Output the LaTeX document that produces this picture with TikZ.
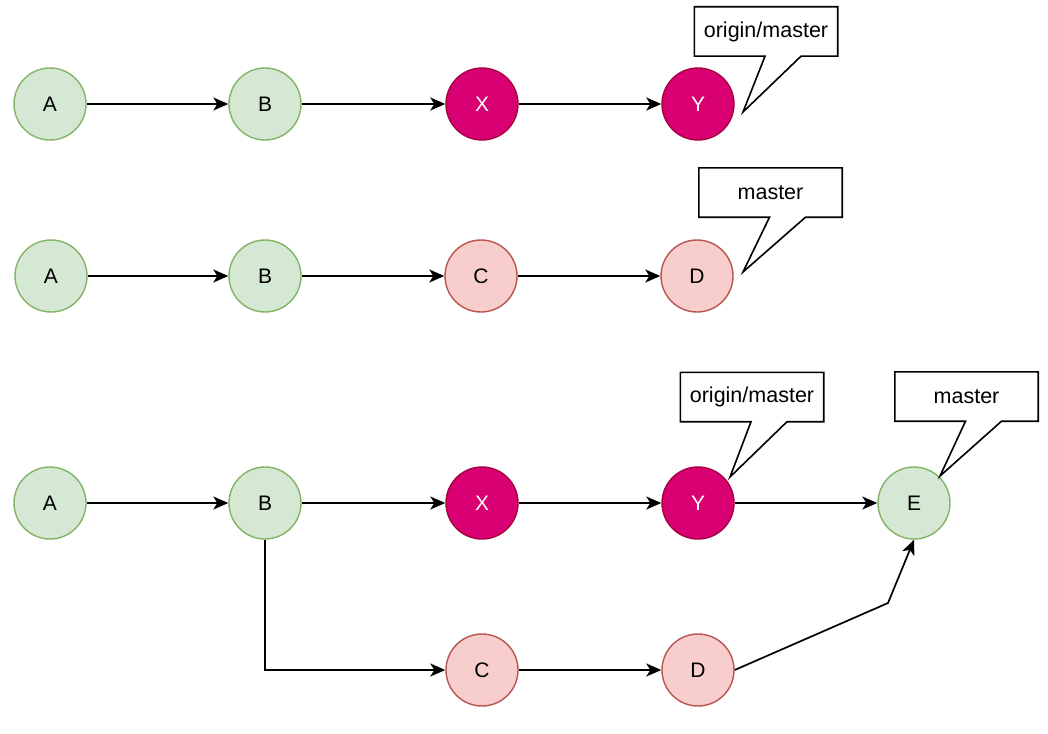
\documentclass[tikz,border=0pt]{standalone}
\usepackage{fontspec}
\setmainfont{Liberation Sans}
\usetikzlibrary{arrows.meta}
\definecolor{greenfill}{HTML}{D5E8D4}
\definecolor{greenline}{HTML}{82B366}
\definecolor{redfill}{HTML}{F8CECC}
\definecolor{redline}{HTML}{B85450}
\definecolor{pinkfill}{HTML}{D80073}
\definecolor{pinkline}{HTML}{A50040}
\newcommand\DrawCallout[4]{% name, centre, text, tip
  \node[callout box] (#1) at (#2) {#3};
  \coordinate (#1 tip) at (#4);
  \draw[callout line] (#1.south west) -- (#1.north west) -- (#1.north east)
    -- (#1.south east) -- ([xshift=35pt]#1.south) -- (#1 tip)
    -- ([xshift=-1pt]#1.south) -- cycle;
}
\tikzset{%
  commit/.style={circle,minimum size=72pt,inner sep=0pt,line width=1.4pt,
    font=\fontsize{21}{25}\selectfont},%
  commit green/.style={commit,fill=greenfill,draw=greenline},%
  commit red/.style={commit,fill=redfill,draw=redline},%
  commit pink/.style={commit,fill=pinkfill,draw=pinkline,text=white},%
  flow/.style={line width=1.7pt,-{Stealth[length=15pt,width=13pt,inset=4pt]}},%
  callout box/.style={minimum width=143pt,minimum height=49pt,inner sep=0pt,
    font=\fontsize{21.5}{25}\selectfont},%
  callout line/.style={line width=1.6pt,line join=miter}%
}

\begin{document}
\begin{tikzpicture}[x=1pt,y=-1pt] % pixel grid of the sketch
\useasboundingbox (0,0) rectangle (1048,733);

% first row: remote history
\node[commit green] (A1) at (50,104) {A};
\node[commit green] (B1) at (265,104) {B};
\node[commit pink] (X1) at (482,104) {X};
\node[commit pink] (Y1) at (698,104) {Y};
\draw[flow] (A1) -- (B1);
\draw[flow] (B1) -- (X1);
\draw[flow] (X1) -- (Y1);
\DrawCallout{remote1}{766,31.5}{origin/master}{743,112}

% second row: local history
\node[commit green] (A2) at (51,276) {A};
\node[commit green] (B2) at (265,276) {B};
\node[commit red] (C2) at (481,276) {C};
\node[commit red] (D2) at (697,276) {D};
\draw[flow] (A2) -- (B2);
\draw[flow] (B2) -- (C2);
\draw[flow] (C2) -- (D2);
\DrawCallout{local2}{770.5,192.5}{master}{743,272}

% third and fourth rows: merged history
\node[commit green] (A3) at (50,503) {A};
\node[commit green] (B3) at (265,503) {B};
\node[commit pink] (X3) at (482,503) {X};
\node[commit pink] (Y3) at (698,503) {Y};
\node[commit green] (E3) at (914,503) {E};
\node[commit red] (C4) at (482,670) {C};
\node[commit red] (D4) at (698,670) {D};
\coordinate (bend) at (888,603);
\draw[flow] (A3) -- (B3);
\draw[flow] (B3) -- (X3);
\draw[flow] (X3) -- (Y3);
\draw[flow] (Y3) -- (E3);
\draw[flow] (B3) |- (C4);
\draw[flow] (C4) -- (D4);
\draw[flow] (D4.east) -- (bend) -- (E3.south);
\DrawCallout{remote3}{752,397}{origin/master}{730,477}
\DrawCallout{local3}{966.5,396.5}{master}{940,476}

\end{tikzpicture}
\end{document}
